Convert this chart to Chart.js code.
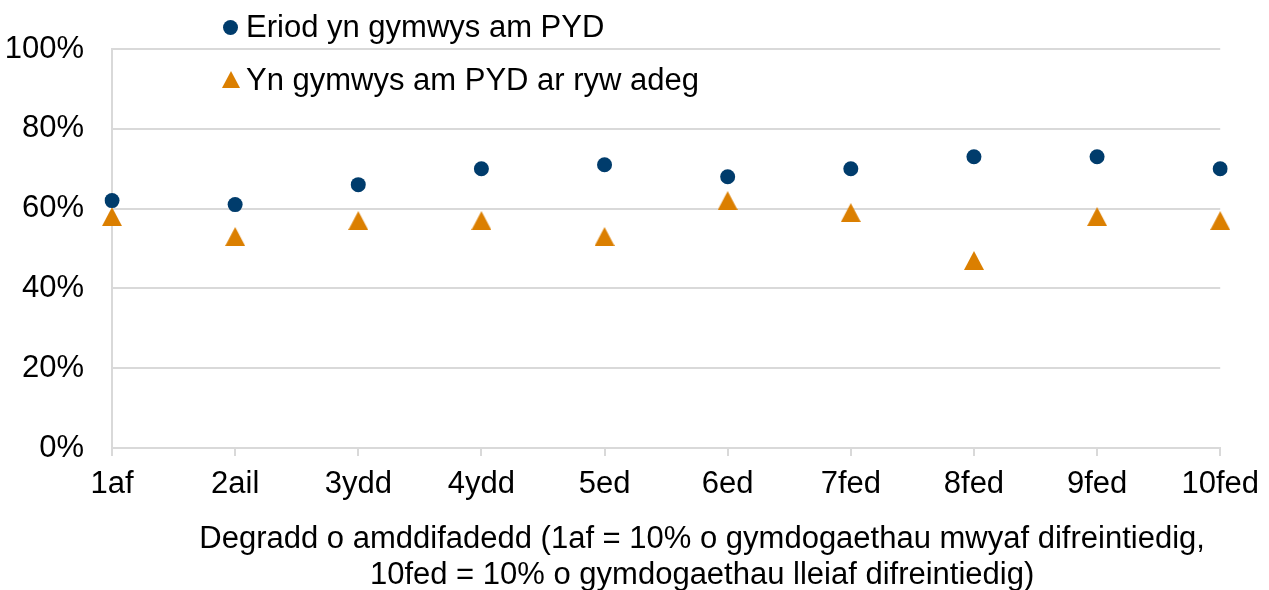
<!DOCTYPE html>
<html>
<head>
<meta charset="utf-8">
<script src="https://cdn.jsdelivr.net/npm/chart.js@4"></script>
<style>
body { margin: 0; background: #fff; }
#wrap { position: relative; width: 1269px; height: 590px; }
.lg-text { position: absolute; left: 246px; font: 31px "Liberation Sans", Arial, sans-serif; color: #000; white-space: nowrap; line-height: 40px; height: 40px; }
.lg-dot { position: absolute; width: 15px; height: 15px; border-radius: 50%; }
.lg-tri { position: absolute; width: 0; height: 0; border-left: 9px solid transparent; border-right: 9px solid transparent; }
</style>
</head>
<body>
<div id="wrap">
    <canvas id="myChart" width="1269" height="590"></canvas>
    <div id="legend"></div>
</div>
<script>
"use strict";

const categories = ['1af', '2ail', '3ydd', '4ydd', '5ed', '6ed', '7fed', '8fed', '9fed', '10fed'];
const everEligible = [62, 61, 66, 70, 71, 68, 70, 73, 73, 70];
const sometimesEligible = [58, 53, 57, 57, 53, 62, 59, 47, 58, 57];
const seriesLabels = ['Eriod yn gymwys am PYD', 'Yn gymwys am PYD ar ryw adeg'];
const axisTitle = [
    'Degradd o amddifadedd (1af = 10% o gymdogaethau mwyaf difreintiedig,',
    '10fed = 10% o gymdogaethau lleiaf difreintiedig)'
];

const blue = '#003C6C';
const orange = '#DB7F00';
const gridColor = '#d9d9d9';
const fontFamily = '"Liberation Sans", Arial, sans-serif';
const fontSize = 31;

// excel style triangle: centred on its box, not on its circumcentre
function makeTriangle(color) {
    const c = document.createElement('canvas');
    c.width = 20;
    c.height = 19;
    const ctx = c.getContext('2d');
    ctx.fillStyle = color;
    ctx.beginPath();
    ctx.moveTo(10, 0);
    ctx.lineTo(20, 19);
    ctx.lineTo(0, 19);
    ctx.closePath();
    ctx.fill();
    return c;
}

// legend sits over the plot, so it is built in html
function buildLegend() {
    const legend = document.getElementById('legend');
    const rows = [
        {label: seriesLabels[0], y: 27, color: blue, shape: 'dot'},
        {label: seriesLabels[1], y: 80, color: orange, shape: 'tri'},
    ];
    rows.forEach(row => {
        const mark = document.createElement('div');
        if (row.shape === 'dot') {
            mark.className = 'lg-dot';
            mark.style.left = '223px';
            mark.style.top = (row.y - 7) + 'px';
            mark.style.background = row.color;
        } else {
            mark.className = 'lg-tri';
            mark.style.left = '222px';
            mark.style.top = (row.y - 9) + 'px';
            mark.style.borderBottom = '17px solid ' + row.color;
        }
        const text = document.createElement('div');
        text.className = 'lg-text';
        text.style.top = (row.y - 20) + 'px';
        text.textContent = row.label;
        legend.appendChild(mark);
        legend.appendChild(text);
    });
}

const axisTitlePlugin = {
    id: 'axisTitle',
    afterDraw(chart) {
        const ctx = chart.ctx;
        const area = chart.chartArea;
        const cx = (area.left + area.right) / 2 + 36;
        ctx.save();
        ctx.font = fontSize + 'px ' + fontFamily;
        ctx.fillStyle = '#000';
        ctx.textAlign = 'center';
        ctx.textBaseline = 'middle';
        ctx.fillText(axisTitle[0], cx, area.bottom + 91);
        ctx.fillText(axisTitle[1], cx, area.bottom + 127);
        ctx.restore();
    }
};

function createChart() {
    return new Chart(document.getElementById('myChart'), {
        type: 'line',
        data: {
            labels: categories,
            datasets: [{
                label: seriesLabels[0],
                data: everEligible,
                showLine: false,
                pointStyle: 'circle',
                pointRadius: 7.5,
                pointHoverRadius: 7.5,
                pointBorderWidth: 0,
                backgroundColor: blue,
                borderColor: blue,
            }, {
                label: seriesLabels[1],
                data: sometimesEligible,
                showLine: false,
                pointStyle: makeTriangle(orange),
                pointRadius: 10,
                pointHoverRadius: 10,
                pointBorderWidth: 0,
                backgroundColor: orange,
                borderColor: orange,
            }]
        },
        options: {
            responsive: false,
            devicePixelRatio: 1,
            animation: false,
            layout: {
                padding: {top: 49, right: 48, left: 0, bottom: 0}
            },
            plugins: {
                legend: {display: false},
                tooltip: {enabled: false},
            },
            scales: {
                x: {
                    offset: false,
                    afterFit(scale) { scale.height = 142; },
                    grid: {
                        drawOnChartArea: false,
                        drawTicks: true,
                        tickLength: 8,
                        color: gridColor,
                        lineWidth: 2,
                    },
                    border: {display: true, color: gridColor, width: 2},
                    ticks: {
                        color: '#000',
                        font: {family: fontFamily, size: fontSize},
                        padding: 10,
                        maxRotation: 0,
                        autoSkip: false,
                    }
                },
                y: {
                    min: 0,
                    max: 100,
                    afterFit(scale) { scale.width = 112; },
                    grid: {
                        color: gridColor,
                        lineWidth: 2,
                        drawTicks: false,
                    },
                    border: {display: true, color: gridColor, width: 2},
                    ticks: {
                        stepSize: 20,
                        color: '#000',
                        font: {family: fontFamily, size: fontSize},
                        padding: 28,
                        callback: v => v + '%',
                    }
                }
            }
        },
        plugins: [axisTitlePlugin]
    });
}

buildLegend();
createChart();
</script>
</body>
</html>
